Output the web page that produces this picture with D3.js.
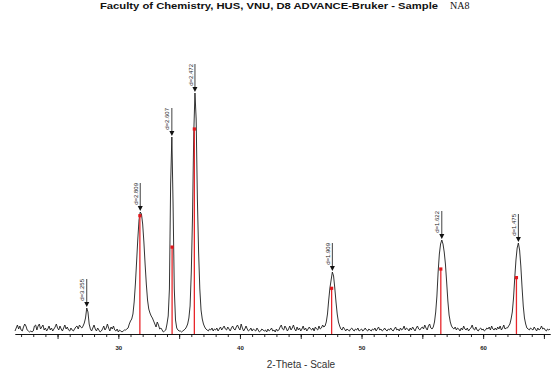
<!DOCTYPE html>
<html>
<head>
<meta charset="utf-8">
<script src="https://cdn.jsdelivr.net/npm/d3@7"></script>
<style>
  html, body { margin: 0; padding: 0; background: #fff; }
  svg { display: block; }
</style>
</head>
<body>
<svg id="chart" width="551" height="371"></svg>
<script>
// ---------- DATA ----------
const titleMain = "Faculty of Chemistry, HUS, VNU, D8 ADVANCE-Bruker - Sample";
const titleSample = "NA8";
const xAxisTitle = "2-Theta - Scale";

// scan: 2-Theta from 21.5 to 65.5, step 0.1
const scanStart = 21.5;
const scanStep = 0.1;
const counts = [
  3, 6, 9, 5, 8,                      // 21.5-21.9
  4, 3, 7, 10, 8, 4, 3, 2, 3, 2,      // 22
  3, 8, 9, 4, 8, 10, 5, 7, 9, 4,      // 23
  6, 3, 5, 8, 4, 6, 3, 5, 7, 10,      // 24
  6, 4, 8, 5, 3, 6, 9, 5, 7, 4,       // 25
  3, 6, 4, 3, 5, 7, 8, 5, 9, 7,       // 26
  6, 8, 11, 16, 26, 22, 10, 5, 3, 6,  // 27
  9, 5, 3, 6, 4, 2, 3, 5, 8, 4,       // 28
  6, 10, 6, 3, 7, 5, 8, 4, 3, 5,      // 29
  2, 4, 3, 2, 3, 4, 4, 5, 6, 10,      // 30
  13, 15, 20, 32, 50, 72, 95, 114, 122, 120,   // 31
  110, 92, 70, 50, 34, 25, 21, 18, 16, 13,     // 32
  10, 7, 12, 9, 5, 6, 4, 2, 3, 4,              // 33
  10, 18, 45, 150, 197, 130, 45, 14, 6, 4,     // 34
  3, 3, 2, 3, 4, 5, 7, 10, 16, 28,             // 35
  62, 118, 200, 241, 215, 135, 82, 45, 24, 15, // 36
  10, 7, 5, 4, 3, 5, 4, 6, 3, 5,      // 37
  4, 6, 3, 5, 7, 4, 6, 8, 5, 4,       // 38
  7, 5, 3, 6, 8, 5, 4, 7, 9, 6,       // 39
  4, 10, 6, 3, 5, 8, 5, 3, 4, 6,      // 40
  3, 5, 4, 3, 6, 4, 2, 3, 5, 4,       // 41
  3, 4, 2, 5, 3, 4, 6, 3, 4, 2,       // 42
  5, 3, 4, 7, 9, 5, 4, 8, 6, 3,       // 43
  5, 8, 4, 6, 9, 5, 3, 7, 4, 6,       // 44
  3, 5, 8, 4, 6, 3, 5, 7, 5, 4,       // 45
  6, 3, 7, 5, 4, 8, 5, 6, 9, 7,       // 46
  8, 12, 20, 34, 46, 54, 62, 58, 46, 32,       // 47
  20, 12, 8, 5, 4, 7, 5, 3, 5, 4,     // 48
  3, 5, 6, 4, 3, 5, 4, 6, 3, 4,       // 49
  5, 3, 4, 6, 4, 3, 5, 4, 3, 5,       // 50
  4, 6, 3, 5, 7, 4, 5, 3, 4, 6,       // 51
  4, 3, 5, 4, 6, 4, 3, 5, 7, 4,       // 52
  5, 3, 6, 4, 5, 8, 4, 6, 5, 3,       // 53
  6, 4, 7, 5, 3, 6, 8, 5, 4, 6,       // 54
  7, 5, 9, 6, 4, 8, 10, 6, 5, 7,      // 55
  12, 22, 38, 62, 80, 90, 94, 90, 82, 70,      // 56
  52, 33, 19, 12, 8, 6, 5, 7, 4, 6,   // 57
  5, 3, 6, 4, 8, 5, 4, 6, 3, 5,       // 58
  6, 9, 5, 4, 7, 4, 3, 5, 6, 4,       // 59
  5, 3, 4, 6, 5, 7, 4, 8, 5, 4,       // 60
  6, 4, 7, 5, 8, 4, 6, 9, 5, 6,       // 61
  6, 8, 10, 15, 22, 36, 56, 74, 86, 91,        // 62
  84, 68, 47, 28, 16, 10, 6, 5, 4, 6, // 63
  5, 4, 7, 5, 3, 6, 4, 5, 8, 5,       // 64
  6, 4, 3, 5, 4, 5                    // 65.0-65.5
];

// labelled peaks (2-Theta, d-spacing label)
const peakTheta = [27.4, 31.8, 34.4, 36.3, 47.6, 56.6, 62.9];
const peakLabels = ["d=3.255", "d=2.809", "d=2.607", "d=2.472", "d=1.909", "d=1.622", "d=1.475"];

// reference pattern sticks (2-Theta, relative intensity %)
const stickTheta = [31.77, 34.42, 36.25, 47.54, 56.52, 62.74];
const stickIntensity = [57.7, 42.4, 100, 22.3, 31.7, 27.5];

// axis ticks
const minorTicks = d3.range(22, 66, 1);
const majorTicks = [25, 30, 35, 40, 45, 50, 55, 60, 65];
const tickLabels = [30, 40, 50, 60];

// ---------- CHART ----------
const svg = d3.select("#chart");
const theta = counts.map((_, i) => +(scanStart + i * scanStep).toFixed(2));
const profile = theta.map((t, i) => ({ t, c: counts[i] }));

const x = d3.scaleLinear().domain([21.5, 65.5]).range([15, 550]);
const y = d3.scaleLinear().domain([0, 300]).range([334, 34]);
const yStick = d3.scaleLinear().domain([0, 100]).range([334, 129]);

// title
svg.append("text")
  .attr("x", 100).attr("y", 9)
  .attr("font-family", "Liberation Sans, Arial, sans-serif")
  .attr("font-weight", "bold")
  .attr("font-size", 9.6)
  .attr("fill", "#111")
  .attr("textLength", 338)
  .attr("lengthAdjust", "spacingAndGlyphs")
  .text(titleMain);
svg.append("text")
  .attr("x", 450).attr("y", 9)
  .attr("font-family", "Liberation Serif, Times New Roman, serif")
  .attr("font-size", 10)
  .attr("fill", "#111")
  .text(titleSample);

// profile line
const line = d3.line().x(d => x(d.t)).y(d => y(d.c));
svg.append("path")
  .datum(profile)
  .attr("fill", "none")
  .attr("stroke", "#1c1c1c")
  .attr("stroke-width", 0.9)
  .attr("stroke-linejoin", "round")
  .attr("d", line);

// reference sticks
const sticks = svg.append("g");
stickTheta.forEach((t, i) => {
  sticks.append("line")
    .attr("x1", x(t)).attr("x2", x(t))
    .attr("y1", yStick(0)).attr("y2", yStick(stickIntensity[i]))
    .attr("stroke", "#e8262b")
    .attr("stroke-width", 1.3);
  sticks.append("rect")
    .attr("x", x(t) - 1.6).attr("y", yStick(stickIntensity[i]) - 1.6)
    .attr("width", 3.2).attr("height", 3.2)
    .attr("fill", "#e3161b");
});

// peak markers
const markers = svg.append("g");
peakTheta.forEach((t, i) => {
  const idx = Math.round((t - scanStart) / scanStep);
  const px = x(t);
  const tip = y(counts[idx]) - 1;
  markers.append("line")
    .attr("x1", px).attr("x2", px)
    .attr("y1", tip - 28).attr("y2", tip - 4)
    .attr("stroke", "#111").attr("stroke-width", 0.8);
  markers.append("path")
    .attr("d", `M${px - 2.5},${tip - 5}L${px + 2.5},${tip - 5}L${px},${tip}Z`)
    .attr("fill", "#111");
  markers.append("text")
    .attr("transform", `translate(${px - 2.4},${tip - 28}) rotate(-90)`)
    .attr("text-anchor", "end")
    .attr("font-family", "Liberation Sans, Arial, sans-serif")
    .attr("font-size", 6)
    .attr("fill", "#222")
    .text(peakLabels[i]);
});

// x axis
const axisY = 334;
const gMinor = svg.append("g").attr("transform", `translate(0,${axisY})`)
  .call(d3.axisBottom(x).tickValues(minorTicks).tickSize(3).tickSizeOuter(0).tickFormat(""));
const gMajor = svg.append("g").attr("transform", `translate(0,${axisY})`)
  .call(d3.axisBottom(x).tickValues(majorTicks).tickSize(5).tickSizeOuter(0).tickPadding(7)
    .tickFormat(d => tickLabels.includes(d) ? d : ""));
[gMinor, gMajor].forEach(g => {
  g.selectAll("path, line").attr("stroke", "#111").attr("stroke-width", 0.9);
  g.selectAll("text")
    .attr("font-family", "Liberation Sans, Arial, sans-serif")
    .attr("font-weight", "bold")
    .attr("font-size", 6)
    .attr("fill", "#222");
});

svg.append("text")
  .attr("x", 301).attr("y", 368)
  .attr("text-anchor", "middle")
  .attr("font-family", "Liberation Sans, Arial, sans-serif")
  .attr("font-size", 10)
  .attr("fill", "#333")
  .text(xAxisTitle);
</script>
</body>
</html>
